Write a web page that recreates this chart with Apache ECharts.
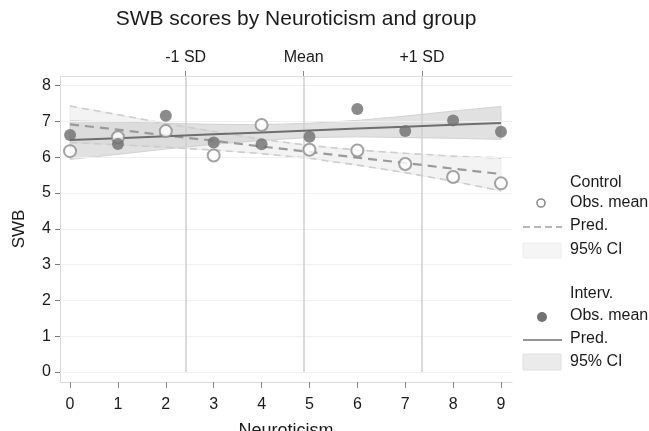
<!DOCTYPE html>
<html>
<head>
<meta charset="utf-8">
<script src="https://cdn.jsdelivr.net/npm/echarts@6/dist/echarts.min.js"></script>
<style>
html,body{margin:0;padding:0;background:#fff;}
#chart{width:649px;height:431px;}
</style>
</head>
<body>
<div id="chart"></div>
<script>
// ---- data ----
const neuroticism = [0, 1, 2, 3, 4, 5, 6, 7, 8, 9];
const yTicks = [0, 1, 2, 3, 4, 5, 6, 7, 8];
const sdPositions = [2.415, 4.88, 7.35];
const sdLabels = ['-1 SD', 'Mean', '+1 SD'];

const controlObs   = [6.17, 6.56, 6.73, 6.05, 6.90, 6.21, 6.19, 5.81, 5.45, 5.27];
const controlPred  = [6.92, 6.77, 6.61, 6.46, 6.30, 6.15, 5.99, 5.84, 5.68, 5.53];
const controlUpper = [7.43, 7.19, 6.94, 6.72, 6.50, 6.33, 6.20, 6.11, 6.03, 5.98];
const controlLower = [6.41, 6.35, 6.28, 6.20, 6.10, 5.97, 5.78, 5.57, 5.33, 5.06];

const intervObs   = [6.62, 6.37, 7.16, 6.41, 6.36, 6.57, 7.35, 6.73, 7.03, 6.71];
const intervPred  = [6.48, 6.53, 6.59, 6.64, 6.69, 6.75, 6.80, 6.85, 6.91, 6.96];
const intervUpper = [7.02, 6.98, 6.95, 6.92, 6.91, 6.95, 7.03, 7.15, 7.29, 7.42];
const intervLower = [5.94, 6.08, 6.23, 6.36, 6.47, 6.55, 6.57, 6.55, 6.53, 6.50];

// ---- helpers ----
const pairs = (ys) => neuroticism.map((x, i) => [x, ys[i]]);
const FONT = 'Liberation Sans, Arial, sans-serif';
const Y_MIN = -0.28, Y_MAX = 8.27;
const TXT = '#1a1a1a';

function bandSeries(upper, lower, fill, stroke, z) {
  const data = neuroticism.map((x, i) => [x, lower[i], upper[i]]);
  return {
    type: 'custom',
    z: z,
    silent: true,
    clip: true,
    data: data,
    encode: { x: 0, y: [1, 2] },
    renderItem: function (params, api) {
      if (params.dataIndex !== 0) return null;
      const top = data.map(d => api.coord([d[0], d[2]]));
      const bot = data.slice().reverse().map(d => api.coord([d[0], d[1]]));
      return {
        type: 'polygon',
        shape: { points: top.concat(bot) },
        style: { fill: fill, stroke: stroke, lineWidth: 1 }
      };
    }
  };
}

function lineSeries(ys, color, width, type, z) {
  return {
    type: 'line', data: pairs(ys), symbol: 'none', z: z, silent: true,
    lineStyle: { color: color, width: width, type: type }
  };
}

function legendText(text, top) {
  return { type: 'text', left: 570, top: top, style: { text: text, font: '16px ' + FONT, fill: TXT } };
}

const chart = echarts.init(document.getElementById('chart'), null, { renderer: 'canvas' });

const option = {
  backgroundColor: '#ffffff',
  animation: false,
  textStyle: { fontFamily: FONT },
  title: {
    text: 'SWB scores by Neuroticism and group',
    left: 291, top: 4, textAlign: 'center',
    textStyle: { fontFamily: FONT, fontSize: 21, fontWeight: 'normal', color: TXT }
  },
  grid: { left: 60, top: 76, width: 452, height: 306, containLabel: false, outerBoundsMode: 'none' },
  xAxis: [{
    type: 'value', position: 'bottom', min: -0.21, max: 9.23,
    name: 'Neuroticism', nameLocation: 'middle', nameGap: 40,
    nameTextStyle: { fontFamily: FONT, fontSize: 18, color: TXT },
    axisLine: { show: true, onZero: false, lineStyle: { color: '#d9d9d9', width: 1 } },
    axisTick: { show: true, length: 6, customValues: neuroticism, lineStyle: { color: '#888' } },
    axisLabel: { customValues: neuroticism, margin: 15, fontSize: 16, color: TXT, fontFamily: FONT },
    splitLine: { show: false }
  }, {
    type: 'value', position: 'top', min: -0.21, max: 9.23,
    axisLine: { show: true, onZero: false, lineStyle: { color: '#dcdcdc', width: 1 } },
    axisTick: { show: true, length: 5, customValues: sdPositions, lineStyle: { color: '#888' } },
    axisLabel: {
      customValues: sdPositions, margin: 10, fontSize: 16, color: TXT, fontFamily: FONT,
      formatter: function (v) {
        let best = 0;
        sdPositions.forEach((p, i) => { if (Math.abs(p - v) < Math.abs(sdPositions[best] - v)) best = i; });
        return sdLabels[best];
      }
    },
    splitLine: { show: false }
  }],
  yAxis: {
    type: 'value', min: Y_MIN, max: Y_MAX,
    name: 'SWB', nameLocation: 'middle', nameGap: 32, nameRotate: 90,
    nameTextStyle: { fontFamily: FONT, fontSize: 17, color: TXT },
    axisLine: { show: true, onZero: false, lineStyle: { color: '#d9d9d9', width: 1 } },
    axisTick: { show: true, length: 5, customValues: yTicks, lineStyle: { color: '#777' } },
    axisLabel: { customValues: yTicks, margin: 9, fontSize: 16, color: TXT, fontFamily: FONT },
    splitLine: { show: false }
  },
  series: [
    // faint horizontal grid lines + SD reference lines
    {
      type: 'line', data: [], silent: true, z: 1,
      markLine: {
        silent: true, symbol: 'none', animation: false,
        label: { show: false },
        lineStyle: { color: '#f0f0f0', width: 1, type: 'solid' },
        data: yTicks.map(v => ({ yAxis: v }))
      }
    },
    {
      type: 'line', data: [], silent: true, z: 1,
      markLine: {
        silent: true, symbol: 'none', animation: false,
        label: { show: false },
        lineStyle: { color: '#cfcfcf', width: 1.5, type: 'solid' },
        data: sdPositions.map(p => [{ coord: [p, 0] }, { coord: [p, Y_MAX] }])
      }
    },
    bandSeries(controlUpper, controlLower, '#f3f3f3', '#ececec', 2),
    bandSeries(intervUpper, intervLower, 'rgba(200,200,200,0.55)', '#d2d2d2', 3),
    lineSeries(controlUpper, '#cdcdcd', 1.6, [7, 5], 4),
    lineSeries(controlLower, '#cdcdcd', 1.6, [7, 5], 4),
    lineSeries(controlPred, '#9a9a9a', 2.2, [9, 6], 5),
    lineSeries(intervPred, '#6e6e6e', 2, 'solid', 5),
    {
      type: 'scatter', data: pairs(controlObs), z: 6, symbol: 'circle', symbolSize: 12, silent: true,
      itemStyle: { color: '#ffffff', borderColor: '#8c8c8c', borderWidth: 2 }
    },
    {
      type: 'scatter', data: pairs(intervObs), z: 7, symbol: 'circle', symbolSize: 12, silent: true,
      itemStyle: { color: '#6e6e6e', borderColor: '#6e6e6e', borderWidth: 0 }
    }
  ],
  graphic: [
    // Control legend
    legendText('Control', 175),
    { type: 'circle', shape: { cx: 541, cy: 203, r: 4 }, style: { fill: '#fff', stroke: '#8c8c8c', lineWidth: 1.6 } },
    legendText('Obs. mean', 195),
    { type: 'line', shape: { x1: 523, y1: 227, x2: 562, y2: 227 }, style: { stroke: '#a0a0a0', lineWidth: 1.6, lineDash: [7, 4] } },
    legendText('Pred.', 218),
    { type: 'rect', shape: { x: 523, y: 243, width: 38, height: 15 }, style: { fill: '#f5f5f5', stroke: '#ececec', lineWidth: 1 } },
    legendText('95% CI', 242),
    // Interv legend
    legendText('Interv.', 286),
    { type: 'circle', shape: { cx: 542, cy: 317, r: 5 }, style: { fill: '#727272' } },
    legendText('Obs. mean', 308),
    { type: 'line', shape: { x1: 523, y1: 340, x2: 562, y2: 340 }, style: { stroke: '#707070', lineWidth: 1.6 } },
    legendText('Pred.', 331),
    { type: 'rect', shape: { x: 523, y: 354, width: 38, height: 16 }, style: { fill: '#ebebeb', stroke: '#e0e0e0', lineWidth: 1 } },
    legendText('95% CI', 354)
  ]
};

chart.setOption(option);
</script>
</body>
</html>
